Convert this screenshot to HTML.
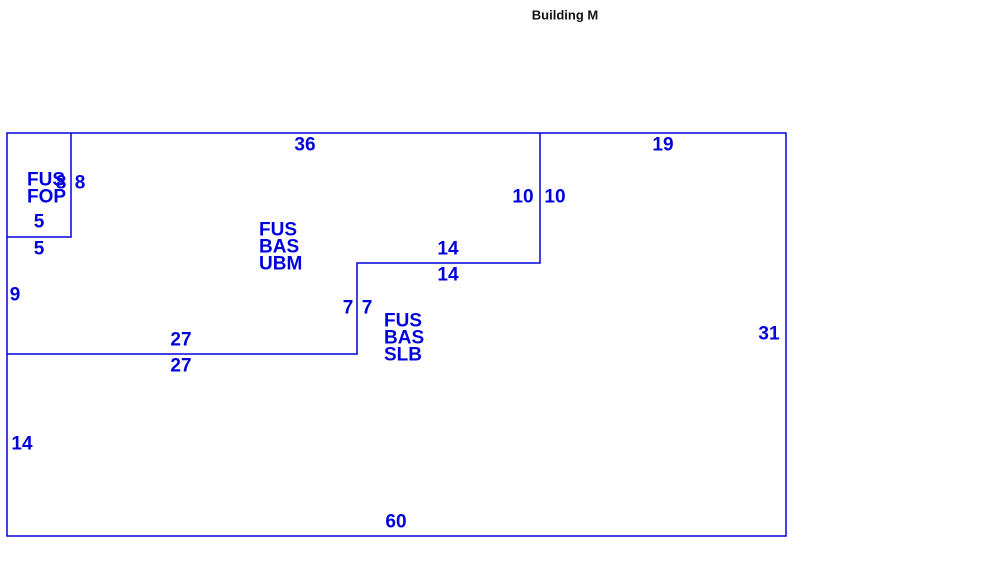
<!DOCTYPE html>
<html><head><meta charset="utf-8"><style>
html,body{margin:0;padding:0;background:#fff;width:999px;height:583px;overflow:hidden}
svg{display:block}
text{font-family:"Liberation Sans",Arial,sans-serif;font-weight:bold;fill:#0000dd;font-size:19px;dominant-baseline:central}
</style></head><body>
<svg width="999" height="583" viewBox="0 0 999 583">
<text x="565" y="15" text-anchor="middle" style="fill:#111;font-size:13px">Building M</text>
<g stroke="#0000dd" stroke-width="1.5" fill="none">
<rect x="7" y="133" width="779" height="403"/>
<polyline points="71,133 71,237 7,237"/>
<polyline points="540,133 540,263 357,263 357,354 7,354"/>
</g>
<g text-anchor="middle">
<text x="305" y="145">36</text>
<text x="663" y="145">19</text>
<text x="61" y="183">8</text>
<text x="80" y="183">8</text>
<text x="39" y="222">5</text>
<text x="39" y="249">5</text>
<text x="523" y="197">10</text>
<text x="555" y="197">10</text>
<text x="448" y="249">14</text>
<text x="448" y="275">14</text>
<text x="15" y="295">9</text>
<text x="348" y="308">7</text>
<text x="367" y="308">7</text>
<text x="769" y="334">31</text>
<text x="181" y="340">27</text>
<text x="181" y="366">27</text>
<text x="22" y="444">14</text>
<text x="396" y="522">60</text>
</g>
<text x="27" y="180">FUS</text>
<text x="27" y="197">FOP</text>
<text x="259" y="230">FUS</text>
<text x="259" y="247">BAS</text>
<text x="259" y="264">UBM</text>
<text x="384" y="321">FUS</text>
<text x="384" y="338">BAS</text>
<text x="384" y="355">SLB</text>
</svg>
</body></html>
